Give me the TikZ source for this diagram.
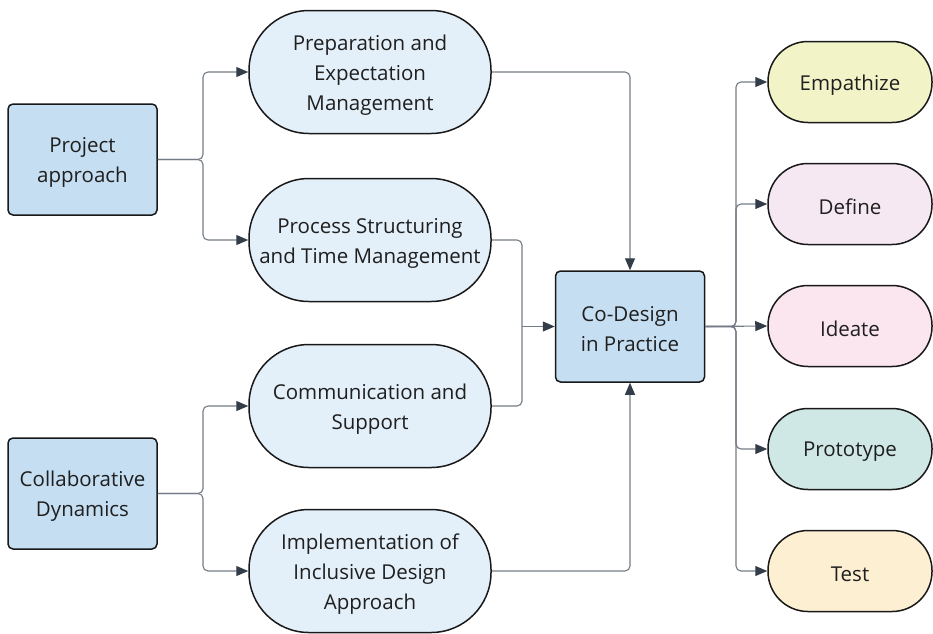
\documentclass[tikz,border=0pt]{standalone}
\usepackage{fontspec}
\setmainfont{Open Sans}
\usetikzlibrary{arrows.meta}
\definecolor{boxblue}{HTML}{C5DEF2}
\definecolor{pillblue}{HTML}{E3EFF9}
\definecolor{empfill}{HTML}{F2F4C8}
\definecolor{deffill}{HTML}{F5E8F2}
\definecolor{ideafill}{HTML}{FBE6F0}
\definecolor{protofill}{HTML}{CFE8E6}
\definecolor{testfill}{HTML}{FDEFD2}
\definecolor{linkgray}{HTML}{747B86}
\definecolor{tipgray}{HTML}{333D4A}
\tikzset{
  every node/.style={font=\fontsize{20.5}{30}\selectfont, text=black!88, align=center},
  % caption set slightly below the geometric centre of its shape
  caption/.style={label={[yshift=-3pt]center:{#1}}},
  mainbox/.style={draw=black!90, line width=1.5pt, fill=boxblue, rounded corners=5pt,
    minimum width=149pt, minimum height=111pt, inner sep=0pt},
  theme/.style={draw=black!90, line width=1.5pt, fill=pillblue, rounded corners=60pt,
    minimum width=242pt, minimum height=123pt, inner sep=0pt},
  phase/.style={draw=black!90, line width=1.5pt, rounded corners=40pt,
    minimum width=164pt, minimum height=81pt, inner sep=0pt},
  link/.style={draw=linkgray, line width=1.1pt, rounded corners=5pt,
    -{Triangle[length=12pt,width=10pt,fill=tipgray,color=tipgray]}},
  plain/.style={draw=linkgray, line width=1.1pt, rounded corners=5pt}
}
\begin{document}
\begin{tikzpicture}[x=1pt,y=-1pt]
\useasboundingbox (0,0) rectangle (933,633);

% category boxes
\node[mainbox, caption={Project\\approach}] (pa) at (82.5,159.5) {};
\node[mainbox, caption={Collaborative\\Dynamics}] (cd) at (82.5,493.5) {};

% themes
\node[theme, caption={Preparation and\\Expectation\\Management}] (prep) at (370,72) {};
\node[theme, caption={Process Structuring\\and Time Management}] (proc) at (370,240) {};
\node[theme, caption={Communication and\\Support}] (comm) at (370,406) {};
\node[theme, caption={Implementation of\\Inclusive Design\\Approach}] (impl) at (370,571) {};

% central node
\node[mainbox, caption={Co-Design\\in Practice}] (co) at (630,326.5) {};

% design thinking phases
\node[phase, fill=empfill, caption=Empathize] (emp) at (850,82) {};
\node[phase, fill=deffill, caption=Define] (def) at (850,204) {};
\node[phase, fill=ideafill, caption=Ideate] (ide) at (850,326) {};
\node[phase, fill=protofill, caption=Prototype] (pro) at (850,449) {};
\node[phase, fill=testfill, caption=Test] (tst) at (850,571) {};

% junction points
\coordinate (j1) at (203,159.5);
\coordinate (j2) at (203,493.5);
\coordinate (j3) at (522,326.5);
\coordinate (j4) at (736,326.5);

% category -> theme
\draw[link] (pa.east) -- (j1) |- (prep.west);
\draw[link] (pa.east) -- (j1) |- (proc.west);
\draw[link] (cd.east) -- (j2) |- (comm.west);
\draw[link] (cd.east) -- (j2) |- (impl.west);

% theme -> central node
\draw[link] (prep.east) -| (co.north);
\draw[link] (impl.east) -| (co.south);
\draw[plain] (proc.east) -| (j3);
\draw[plain] (comm.east) -| (j3);
\draw[link] (j3) -- (co.west);

% central node -> phases
\draw[link] (co.east) -- (j4) |- (emp.west);
\draw[link] (co.east) -- (j4) |- (def.west);
\draw[link] (co.east) -- (ide.west);
\draw[link] (co.east) -- (j4) |- (pro.west);
\draw[link] (co.east) -- (j4) |- (tst.west);
\end{tikzpicture}
\end{document}
